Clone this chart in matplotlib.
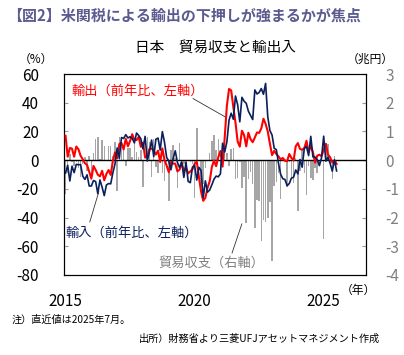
import matplotlib
matplotlib.use("Agg")
import matplotlib.pyplot as plt
import numpy as np

plt.rcParams['font.family'] = ['Noto Sans CJK JP', 'DejaVu Sans']

# Monthly data, Jan 2015 - Jul 2025
exports_yoy = [
    17.0, 2.4, 8.5, 8.0, 2.4, 9.5, 7.6, 3.1, 0.6, -2.1, -3.3, -8.0,
    -12.9, -4.0, -6.8, -10.1, -11.3, -7.4, -14.0, -9.6, -6.9, -10.3, -0.4, 5.4,
    1.3, 11.3, 12.0, 7.5, 14.9, 9.7, 13.4, 18.1, 14.1, 14.0, 16.2, 9.3,
    12.2, 1.8, 2.1, 7.8, 8.1, 6.7, 3.9, 6.6, -1.3, 8.2, 0.1, -3.8,
    -8.4, -1.2, -2.4, -2.4, -7.8, -6.6, -1.6, -8.2, -5.2, -9.2, -7.9, -6.3,
    -2.6, -1.0, -11.7, -21.9, -28.3, -26.2, -19.2, -14.8, -4.9, -0.2, -4.2, 2.0,
    6.4, -4.5, 16.1, 38.0, 49.6, 48.6, 37.0, 26.2, 13.0, 9.4, 20.5, 17.5,
    9.6, 19.1, 14.7, 12.5, 15.8, 19.3, 19.0, 22.1, 28.9, 25.3, 20.0, 11.5,
    3.5, 6.5, 4.3, 2.6, 0.6, 1.5, -0.3, -0.8, 4.3, 1.6, -0.2, 9.7,
    11.9, 7.8, 7.3, 8.3, 13.5, 5.4, 10.3, 5.5, -1.7, 3.1, 3.8, 2.8,
    7.2, 11.4, 3.9, 2.0, -1.7, -0.5, -2.6,
]
imports_yoy = [
    -9.0, -3.6, -14.5, -4.2, -8.7, -2.9, -3.2, -3.1, -11.1, -13.4, -10.2, -18.0,
    -18.0, -14.2, -14.9, -23.3, -13.8, -18.8, -24.7, -17.3, -16.3, -16.5, -8.8, -2.6,
    8.5, 1.3, 15.8, 15.1, 17.8, 15.5, 16.3, 15.2, 12.0, 18.9, 17.2, 14.9,
    7.9, 16.6, -0.6, 5.9, 14.0, 2.5, 14.6, 15.4, 7.0, 19.9, 12.5, 1.9,
    -0.6, -6.7, 1.1, 6.5, -1.5, -5.2, -1.2, -12.0, -1.5, -14.8, -15.7, -4.9,
    -3.6, -13.9, -5.0, -7.2, -26.2, -14.4, -22.3, -20.8, -17.2, -13.3, -11.1, -11.6,
    -9.5, 11.8, 5.7, 12.8, 27.9, 32.7, 28.5, 44.7, 38.6, 26.7, 43.8, 41.1,
    39.6, 34.1, 31.2, 28.3, 48.9, 46.1, 47.2, 49.9, 45.9, 53.5, 30.3, 20.6,
    17.5, 8.3, 7.3, -2.3, -9.9, -12.9, -13.5, -17.8, -16.3, -12.5, -11.9, -6.8,
    -9.6, 0.5, -4.9, 8.3, 9.5, 3.2, 16.6, 2.3, 2.1, 0.4, -3.8, 1.8,
    16.7, -0.7, 2.0, -2.2, -7.7, 0.3, -7.5,
]
trade_balance = [
    -1.18, -0.43, 0.23, -0.05, -0.22, -0.07, -0.27, -0.57, -0.12, 0.11, -0.38, 0.14,
    -0.65, 0.24, 0.75, 0.82, 0.04, 0.69, 0.51, -0.02, 0.50, 0.49, 0.15, 0.64,
    -1.09, 0.81, 0.61, 0.48, -0.20, 0.44, 0.42, 0.11, 0.67, 0.28, 0.11, 0.36,
    -0.94, 0.00, 0.80, 0.63, -0.58, 0.72, -0.23, -0.44, 0.14, -0.45, -0.74, -0.06,
    -1.42, 0.34, 0.53, 0.06, -0.97, 0.59, -0.01, -0.14, -0.12, 0.02, -0.08, -0.15,
    -1.31, 1.11, 0.00, -0.93, -0.83, -0.27, 0.01, 0.25, 0.68, 0.87, 0.36, 0.75,
    -0.33, 0.22, 0.66, 0.26, -0.19, 0.38, 0.44, -0.64, -0.63, -0.07, -0.96, -0.58,
    -2.19, -0.67, -0.41, -0.84, -2.38, -1.38, -1.43, -2.82, -2.09, -2.16, -2.03, -1.45,
    -3.50, -0.90, -0.76, -0.43, -1.37, 0.04, -0.08, -0.93, -0.06, -0.66, -0.78, 0.06,
    -1.76, -0.38, 0.37, -0.46, -1.22, -0.22, -0.63, -0.70, -0.29, -0.46, -0.12, 0.13,
    -2.76, 0.59, 0.56, -0.12, -0.64, 0.15, -0.12,
]
start_year = 2015
x_ticks = [2015, 2020, 2025]
x_tick_labels = ['2015', '2020', '2025']
left_ticks = [60, 40, 20, 0, -20, -40, -60, -80]
right_ticks = [3, 2, 1, 0, -1, -2, -3, -4]

n = len(exports_yoy)
t = start_year + np.arange(n) / 12.0

fig = plt.figure(figsize=(4.04, 3.55), dpi=100)
ax = fig.add_axes([0.158, 0.2254, 0.748, 0.566])
ax2 = ax.twinx()

ax2.bar(t, trade_balance, width=0.7 / 12, color='#A6A6A6', linewidth=0)
ax2.set_ylim(-4, 3)

ax.axhline(0, color='black', lw=1.0, zorder=2)
ax.plot(t, exports_yoy, color='#FF0000', lw=1.5, zorder=4)
ax.plot(t, imports_yoy, color='#0A1F5C', lw=1.2, zorder=5)
ax.set_ylim(-80, 60)
ax.set_xlim(2014.934, 2026.64)

ax.set_zorder(ax2.get_zorder() + 1)
ax.patch.set_visible(False)

ax.set_yticks(left_ticks)
ax.set_yticklabels([str(v) for v in left_ticks], fontsize=11, color='black')
ax.tick_params(axis='y', direction='in', length=3, width=0.8, color='#999999', pad=18)
ax2.set_yticks(right_ticks)
ax2.set_yticklabels([str(v) for v in right_ticks], fontsize=11, color='#808080')
ax2.tick_params(axis='y', direction='in', length=3, width=0.8, color='#999999', pad=14)
ax.set_xticks(x_ticks)
ax.set_xticklabels(x_tick_labels, fontsize=11)
ax.tick_params(axis='x', length=0, pad=13)

for a in (ax, ax2):
    for s in a.spines.values():
        s.set_color('black')
        s.set_linewidth(0.8)

# annotations
ax.text(2017.8, 47.8, '輸出（前年比、左軸）', color='#FF0000', fontsize=9.5,
        ha='center', va='center')
ax.plot([2019.94, 2021.17], [42.9, 30.3], color='#333333', lw=0.6, zorder=6)
ax.text(2017.58, -50.7, '輸入（前年比、左軸）', color='#0A1F5C', fontsize=9.5,
        ha='center', va='center')
ax.plot([2015.94, 2016.29], [-43, -22], color='#333333', lw=0.6, zorder=6)
ax.text(2020.63, -71.5, '貿易収支（右軸）', color='#808080', fontsize=9.5,
        ha='center', va='center')
ax.plot([2021.45, 2021.83], [-64.7, -44.4], color='#333333', lw=0.6, zorder=6)

# figure texts
fig.text(7 / 404, 1 - 16 / 355, '【図2】米関税による輸出の下押しが強まるかが焦点',
         fontsize=10.8, fontweight='bold', color='#5B5B8F', ha='left', va='center')
fig.text(215 / 404, 1 - 48 / 355, '日本　貿易収支と輸出入', fontsize=10.5,
         ha='center', va='center')
fig.text(36 / 404, 1 - 59 / 355, '（%）', fontsize=8.5, ha='center', va='center')
fig.text(370 / 404, 1 - 59 / 355, '（兆円）', fontsize=8.5, ha='center', va='center')
fig.text(358 / 404, 1 - 290 / 355, '（年）', fontsize=8.5, ha='center', va='center')
fig.text(12 / 404, 1 - 320 / 355, '注）直近値は2025年7月。', fontsize=7.3,
         ha='left', va='center')
fig.text(380 / 404, 1 - 339 / 355, '出所）財務省より三菱UFJアセットマネジメント作成',
         fontsize=7.3, ha='right', va='center')

fig.savefig('out.png', dpi=100)
